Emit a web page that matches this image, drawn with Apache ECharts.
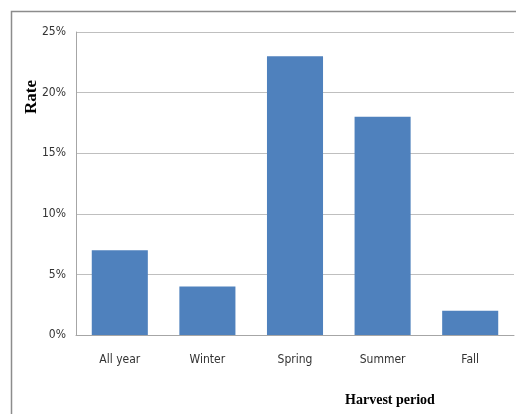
<!DOCTYPE html>
<html>
<head>
<meta charset="utf-8">
<script src="https://cdn.jsdelivr.net/npm/echarts@6/dist/echarts.min.js"></script>
<style>
html,body{margin:0;padding:0;background:#fff;}
#chart{width:516px;height:414px;}
</style>
</head>
<body>
<div id="chart"></div>
<script>
// Harvest periods and their rates (percent)
const categories = ['All year', 'Winter', 'Spring', 'Summer', 'Fall'];
const rates = [7, 4, 23, 18, 2];
const yTicks = [0, 5, 10, 15, 20, 25];

const chart = echarts.init(document.getElementById('chart'));
const labelFont = '"DejaVu Sans Condensed", "Liberation Sans Narrow", Arial, sans-serif';
const titleFont = '"Liberation Serif", "DejaVu Serif", serif';

chart.setOption({
  animation: false,
  backgroundColor: '#fff',
  graphic: [{
    // outer frame
    type: 'rect',
    shape: { x: 11.5, y: 11.5, width: 520, height: 420 },
    style: { fill: 'none', stroke: '#8c8c8c', lineWidth: 1.5 },
    silent: true
  }, {
    // vertical axis title
    type: 'text',
    x: 32, y: 97,
    rotation: Math.PI / 2,
    style: {
      text: 'Rate', fontFamily: titleFont, fontWeight: 'bold', fontSize: 17,
      fill: '#000', align: 'center', verticalAlign: 'middle'
    },
    silent: true
  }],
  grid: { left: 76, top: 32, right: 2, bottom: 79, outerBoundsMode: 'none' },
  xAxis: {
    type: 'category',
    data: categories,
    name: 'Harvest period',
    nameLocation: 'middle',
    nameGap: 58,
    nameTextStyle: {
      fontFamily: titleFont,
      fontWeight: 'bold', fontSize: 14, color: '#000',
      padding: [0, 0, 0, 190]
    },
    axisLine: { lineStyle: { color: '#a6a6a6', width: 1 } },
    axisTick: { show: false },
    axisLabel: { fontFamily: labelFont, fontSize: 12, color: '#333', margin: 19 }
  },
  yAxis: {
    type: 'value',
    min: yTicks[0],
    max: yTicks[yTicks.length - 1],
    interval: 5,
    axisLine: { show: true, lineStyle: { color: '#a6a6a6', width: 1 } },
    axisTick: { show: false },
    splitLine: { lineStyle: { color: '#bfbfbf', width: 1 } },
    axisLabel: { fontFamily: labelFont, fontSize: 12, color: '#333', margin: 10,
      formatter: v => v + '%' }
  },
  series: [{
    type: 'bar',
    data: rates,
    barCategoryGap: '36%',
    itemStyle: { color: '#4f81bd' }
  }]
});
</script>
</body>
</html>
